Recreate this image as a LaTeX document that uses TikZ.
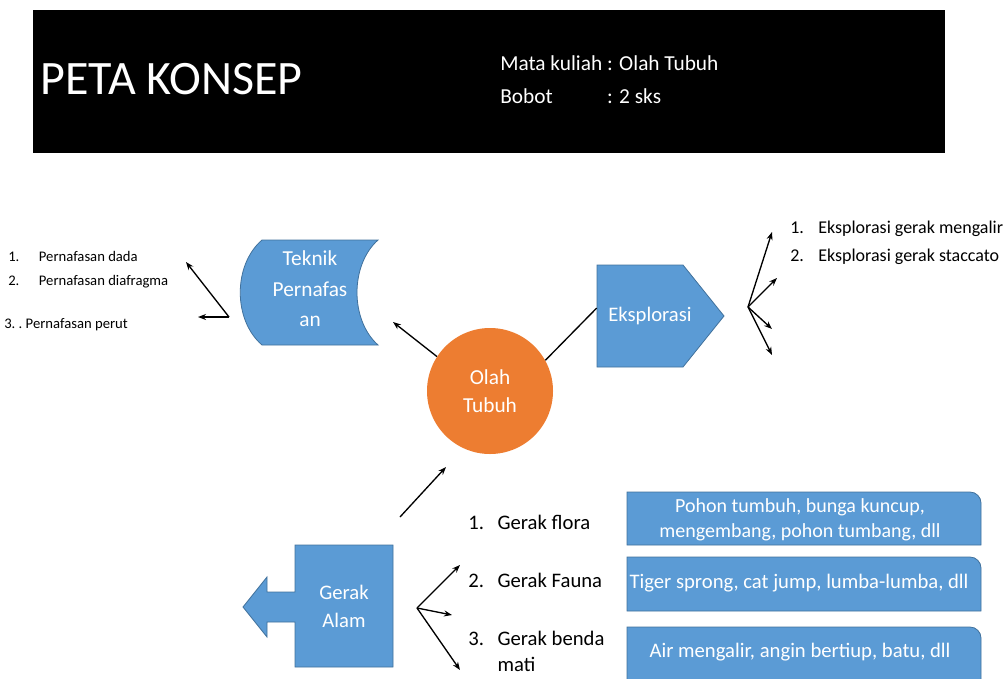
\documentclass[tikz,border=0pt]{standalone}
\usepackage{fontspec}
\setmainfont{Carlito}
\usetikzlibrary{arrows.meta}
\definecolor{primary}{RGB}{91,155,213}
\definecolor{edge}{RGB}{65,113,156}
\definecolor{accent}{RGB}{237,125,49}
\tikzstyle{blok} = [fill=primary,draw=edge,line width=0.6pt]
\tikzstyle{lbl} = [text=white,align=center,inner sep=0,font=\fontsize{15.5}{21}\selectfont]
\tikzstyle{isi} = [text=black,align=left,anchor=west,inner sep=0]
\tikzstyle{arr} = [-{Stealth[length=6pt,width=4.5pt]},line width=1pt]

\begin{document}
\begin{tikzpicture}[x=0.75pt,y=-0.75pt]
\useasboundingbox (0,0) rectangle (1006,678);
\fill[black] (33,10) rectangle (945,153);
\node[isi,text=white,font=\fontsize{36}{40}\selectfont] (judul) at (40,79) {PETA KONSEP};
\node[isi,text=white,font=\fontsize{16}{25}\selectfont] (info) at (500,80) {Mata kuliah : Olah Tubuh\\\rlap{Bobot}\phantom{Mata kuliah }: 2 sks};

\path[blok] (262,240) -- (378,240) .. controls (350,265) and (350,320) .. (378,345) -- (262,345) .. controls (233,320) and (233,265) .. (262,240) -- cycle;
\node[lbl,font=\fontsize{16}{23}\selectfont] (tek) at (310,289) {Teknik\\Pernafas\\an};
\path[blok] (597,265) -- (683,265) -- (724,316) -- (683,367) -- (597,367) -- cycle;
\node[lbl,minimum width=79.5pt] (eks) at (650,316) {Eksplorasi};
\path[blok] (295,545) -- (393,545) -- (393,667) -- (295,667) -- (295,622) -- (267,622) -- (267,637) -- (243,607) -- (267,577) -- (267,592) -- (295,592) -- cycle;
\node[lbl,font=\fontsize{15.5}{21}\selectfont] (alam) at (344,606) {Gerak\\Alam};
\node[circle,fill=accent,minimum size=94.5pt,inner sep=0,text=white,align=center,font=\fontsize{16}{21}\selectfont] (olah) at (490,391) {Olah\\Tubuh};

\path[blok] (627,545) -- (627,492) -- (970,492) .. controls (976,492) and (981,497) .. (981,503) -- (981,545) -- cycle;
\path[blok] (627,611) -- (627,557) -- (970,557) .. controls (976,557) and (981,562) .. (981,568) -- (981,611) -- cycle;
\path[blok] (627,680) -- (627,627) -- (970,627) .. controls (976,627) and (981,632) .. (981,638) -- (981,680) -- cycle;
\node[lbl,font=\fontsize{15}{19}\selectfont] (flora) at (800,520) {Pohon tumbuh, bunga kuncup,\\mengembang, pohon tumbang, dll};
\node[lbl] (fauna) at (799,583) {Tiger sprong, cat jump, lumba-lumba, dll};
\node[lbl] (benda) at (800,652) {Air mengalir, angin bertiup, batu, dll};

\node[isi,font=\fontsize{11}{18}\selectfont] (n1) at (8,270) {\makebox[23pt][l]{1.}Pernafasan dada\\\makebox[23pt][l]{2.}Pernafasan diafragma};
\node[isi,font=\fontsize{11}{18}\selectfont] (n3) at (4,325) {3.~.~Pernafasan perut};
\node[isi,font=\fontsize{13.5}{21}\selectfont] (e12) at (790,243) {\makebox[21pt][l]{1.}Eksplorasi gerak mengalir\\\makebox[21pt][l]{2.}Eksplorasi gerak staccato};
\node[isi,font=\fontsize{15.5}{21}\selectfont] (g1) at (468,522) {\makebox[22pt][l]{1.}Gerak flora};
\node[isi,font=\fontsize{15.5}{21}\selectfont] (g2) at (468,580) {\makebox[22pt][l]{2.}Gerak Fauna};
\node[isi,font=\fontsize{15.5}{19.5}\selectfont] (g3) at (468,651) {\makebox[22pt][l]{3.}Gerak benda\\\hspace*{22pt}mati};

\coordinate (tj) at (229,317);
\coordinate (ta) at (186,262);
\coordinate (tb) at (198,317);
\coordinate (ot) at (393,322);
\coordinate (ej) at (748,307);
\coordinate (ea) at (772,232);
\coordinate (eb) at (777,278);
\coordinate (ec) at (772,329);
\coordinate (ed) at (772,355);
\coordinate (ga) at (400,517);
\coordinate (go) at (446,467);
\coordinate (gj) at (417,608);
\coordinate (gx) at (460,565);
\coordinate (gy) at (452,615);
\coordinate (gz) at (460,670);

\draw[arr] (tj) -- (ta);
\draw[arr] (tj) -- (tb);
\draw[arr] (olah.147) -- (ot);
\draw[line width=1pt] (olah.29) -- ([yshift=6pt]eks.west);
\draw[arr] (ej) -- (ea);
\draw[arr] (ej) -- (eb);
\draw[arr] (ej) -- (ec);
\draw[arr] (ej) -- (ed);
\draw[arr] (ga) -- (go);
\draw[arr] (gj) -- (gx);
\draw[arr] (gj) -- (gy);
\draw[arr] (gj) -- (gz);
\end{tikzpicture}
\end{document}
